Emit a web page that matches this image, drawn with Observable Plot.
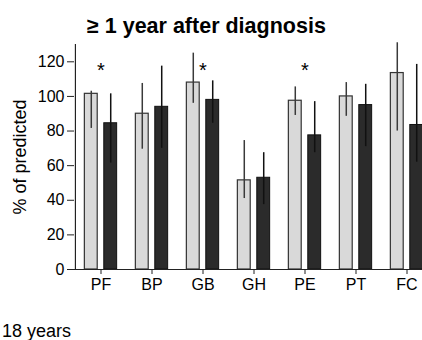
<!DOCTYPE html>
<html>
<head>
<meta charset="utf-8">
<script src="https://cdn.jsdelivr.net/npm/d3@7"></script>
<script src="https://cdn.jsdelivr.net/npm/@observablehq/plot@0.6"></script>
<style>
  html, body { margin: 0; padding: 0; background: #fff; overflow: hidden; width: 422px; height: 340px; }
  body { font-family: "Liberation Sans", Arial, sans-serif; color: #000; }
  #title { position: relative; height: 40px; }
  #title span { position: absolute; left: 87px; top: 15px; font-size: 21.5px; line-height: 22px; font-weight: bold; white-space: nowrap; }
  #chart { width: 422px; height: 278px; overflow: hidden; }
  #chart svg { display: block; max-width: none !important; width: 433px !important; height: 278px !important; }
  #caption { height: 22px; padding-left: 2px; font-size: 18px; line-height: 18px; padding-top: 4px; box-sizing: border-box; white-space: nowrap; }
</style>
</head>
<body>
<div id="title"><span>≥ 1 year after diagnosis</span></div>
<div id="chart"></div>
<div id="caption">18 years</div>
<script>
const categories = ["PF", "BP", "GB", "GH", "PE", "PT", "FC"];
const yTicks = [0, 20, 40, 60, 80, 100, 120];
const yLabel = "% of predicted";
// light bars
const lightMean = [101.5, 90, 108, 51.5, 97.5, 100, 113.5];
const lightLow  = [81.5, 69.5, 96, 41, 89, 88.5, 80];
const lightHigh = [103, 107.5, 125, 74.5, 105.5, 108, 131];
// dark bars
const darkMean = [84.5, 94, 98, 53, 77.5, 95, 83.5];
const darkLow  = [61.5, 70, 84.5, 37.5, 67.5, 71, 62];
const darkHigh = [101.5, 117.5, 109, 67.5, 97, 107, 118.5];
// significance markers
const significant = ["PF", "GB", "PE"];
const starValue = 118;

const light = categories.map((c, i) => ({cat: c, v: lightMean[i], lo: lightLow[i], hi: lightHigh[i]}));
const dark = categories.map((c, i) => ({cat: c, v: darkMean[i], lo: darkLow[i], hi: darkHigh[i]}));

const W = 433, ML = 74, MR = 1;
const bw = (W - ML - MR) / categories.length;
const off = bw * 0.19;      // bar centre offset from group centre
const half = 6.5;           // half bar width

const chart = Plot.plot({
  width: W,
  height: 278,
  marginLeft: ML,
  marginRight: MR,
  marginTop: 4,
  marginBottom: 49,
  style: {fontFamily: "'Liberation Sans', Arial, sans-serif", fontSize: "16px", color: "#000", background: "#fff"},
  x: {domain: categories, padding: 0, label: null},
  y: {domain: [0, 130], label: null},
  marks: [
    Plot.barY(light, {x: "cat", y: "v", fill: "#d9d9d9", stroke: "#333", strokeWidth: 1.2,
      insetLeft: bw / 2 - off - half, insetRight: bw / 2 + off - half}),
    Plot.barY(dark, {x: "cat", y: "v", fill: "#2b2b2b", stroke: "#111", strokeWidth: 1,
      insetLeft: bw / 2 + off - half, insetRight: bw / 2 - off - half}),
    Plot.ruleX(light, {x: "cat", y1: "lo", y2: "hi", dx: -off, stroke: "#3a3a3a", strokeWidth: 1.5}),
    Plot.ruleX(dark, {x: "cat", y1: "lo", y2: "hi", dx: off, stroke: "#111", strokeWidth: 1.5}),
    Plot.text(significant, {x: d => d, y: starValue, text: () => "*", fontSize: 20, dy: 5}),
    Plot.ruleY([0], {stroke: "#222", strokeWidth: 1.2}),
    Plot.ruleX([categories[0]], {dx: -bw / 2, y1: 0, y2: 130, stroke: "#222", strokeWidth: 1.2}),
    Plot.axisY({ticks: yTicks, tickSize: 7, tickPadding: 3, stroke: "#222", label: null}),
    Plot.axisX({tickSize: 5, tickPadding: 4, stroke: "#222", label: null}),
    Plot.text([yLabel], {text: d => d, frameAnchor: "left", textAnchor: "middle", rotate: -90, dx: -54.5, fontSize: 18, lineAnchor: "middle"})
  ]
});
document.getElementById("chart").appendChild(chart);
</script>
</body>
</html>
